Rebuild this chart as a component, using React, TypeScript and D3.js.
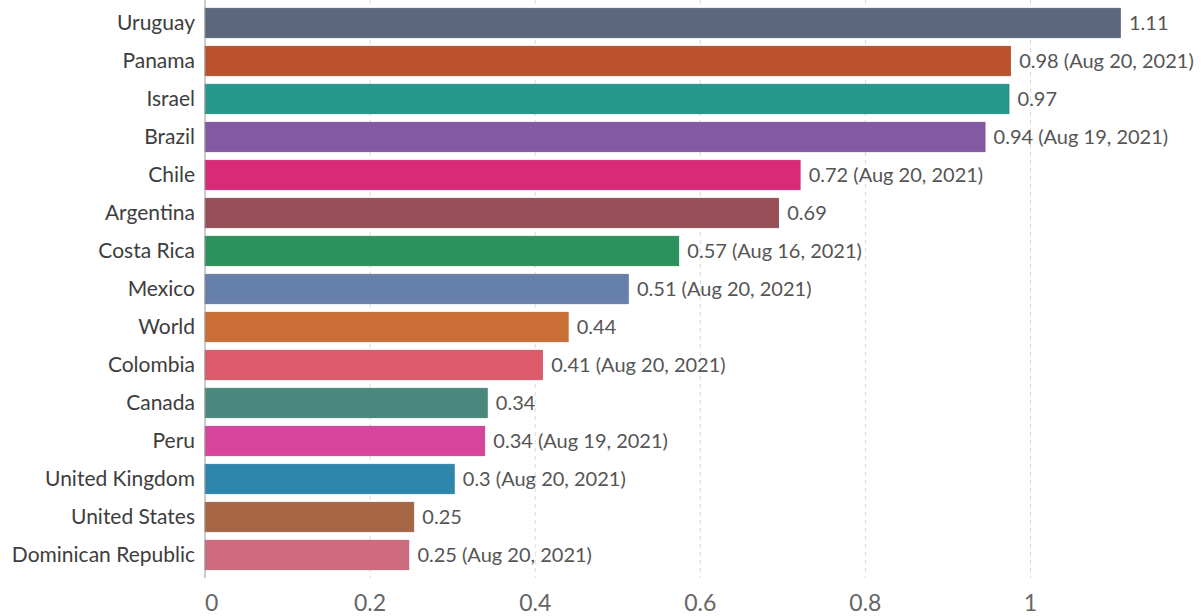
import React from "react";
import * as d3 from "d3";

const countries = [
  "Uruguay", "Panama", "Israel", "Brazil", "Chile", "Argentina", "Costa Rica",
  "Mexico", "World", "Colombia", "Canada", "Peru", "United Kingdom",
  "United States", "Dominican Republic",
];
const values = [1.109, 0.976, 0.974, 0.945, 0.721, 0.695, 0.574, 0.513, 0.44, 0.409, 0.342, 0.339, 0.302, 0.253, 0.247];
const valueLabels = ["1.11", "0.98", "0.97", "0.94", "0.72", "0.69", "0.57", "0.51", "0.44", "0.41", "0.34", "0.34", "0.3", "0.25", "0.25"];
const dates = [
  "", "Aug 20, 2021", "", "Aug 19, 2021", "Aug 20, 2021", "", "Aug 16, 2021",
  "Aug 20, 2021", "", "Aug 20, 2021", "", "Aug 19, 2021", "Aug 20, 2021", "", "Aug 20, 2021",
];
const colors = [
  "#5a677d", "#bc522d", "#26978d", "#8359a3", "#d82b77", "#964f56", "#2a925a",
  "#6680ab", "#c96f35", "#dc5a6a", "#4a887d", "#d6449b", "#2f86ad", "#a66643", "#cf6b7e",
];
const ticks = [0, 0.2, 0.4, 0.6, 0.8, 1];
const tickLabels = ["0", "0.2", "0.4", "0.6", "0.8", "1"];

export default function App() {
  const W = 1201, H = 616;
  const x = d3.scaleLinear().domain([0, 1]).range([205, 1030.5]);
  const y = d3.scaleBand<string>().domain(countries).range([4, 574]).paddingInner(0.22).paddingOuter(0.11);
  const font = "Lato, 'Noto Sans', sans-serif";
  return (
    <svg width={W} height={H} style={{ position: "absolute", left: 0, top: 0, background: "#fff" }} fontFamily={font}>
      {ticks.filter((t) => t > 0).map((t) => (
        <line key={"g" + t} x1={x(t)} x2={x(t)} y1={0} y2={578} stroke="#dadada" strokeWidth={1} strokeDasharray="4,4" />
      ))}
      {countries.map((c, i) => {
        const yy = y(c)!;
        const bw = y.bandwidth();
        const label = valueLabels[i] + (dates[i] ? ` (${dates[i]})` : "");
        return (
          <g key={c}>
            <rect x={x(0)} y={yy} width={x(values[i]) - x(0)} height={bw} fill={colors[i]} stroke={d3.color(colors[i])!.darker(0.4).toString()} strokeWidth={0.6} />
            <text x={195} y={yy + bw / 2} dy="0.35em" textAnchor="end" fontSize={21} fill="#3d3d3d">{c}</text>
            <text x={x(values[i]) + 8.5} y={yy + bw / 2} dy="0.35em" textAnchor="start" fontSize={20} fill="#555">{label}</text>
          </g>
        );
      })}
      <line x1={205} x2={205} y1={0} y2={578} stroke="#999" strokeWidth={1} />
      {ticks.map((t, i) => (
        <text key={"t" + t} x={x(t)} y={611} textAnchor={t === 0 ? "start" : "middle"} fontSize={23} fill="#666">{tickLabels[i]}</text>
      ))}
    </svg>
  );
}
